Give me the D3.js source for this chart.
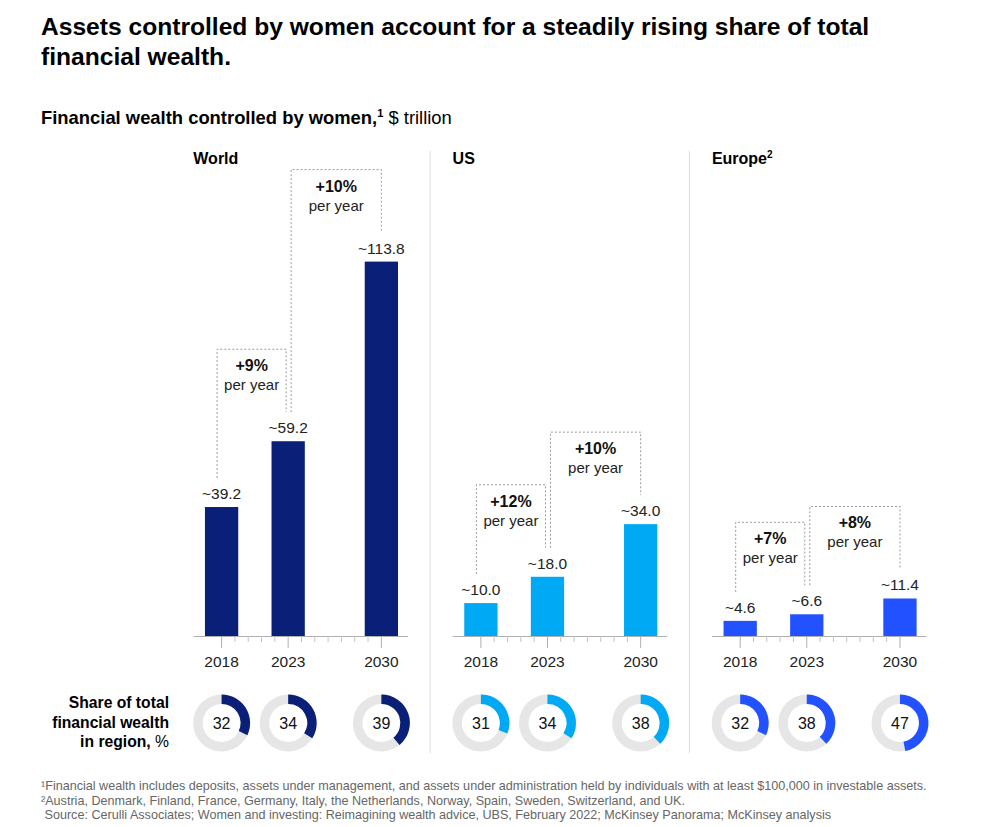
<!DOCTYPE html>
<html>
<head>
<meta charset="utf-8">
<script src="https://cdn.jsdelivr.net/npm/d3@7"></script>
<style>
  body { margin: 0; background: #fff; }
  svg { font-family: "Liberation Sans", Arial, sans-serif; }
</style>
</head>
<body>
<svg id="chart" width="984" height="827"></svg>
<script>
// Data
const years = [2018, 2023, 2030];
const regionNames = ["World", "US", "Europe"];
const worldWealth = [39.2, 59.2, 113.8];
const usWealth = [10.0, 18.0, 34.0];
const europeWealth = [4.6, 6.6, 11.4];
const worldGrowth = ["+9%", "+10%"];
const usGrowth = ["+12%", "+10%"];
const europeGrowth = ["+7%", "+8%"];
const worldShare = [32, 34, 39];
const usShare = [31, 34, 38];
const europeShare = [32, 38, 47];
const majorTicks = [2018, 2023, 2030];
const minorTicks = [2019, 2020, 2021, 2022, 2024, 2025, 2026, 2027, 2028, 2029];

const footnotes = [
    "¹Financial wealth includes deposits, assets under management, and assets under administration held by individuals with at least $100,000 in investable assets.",
    "²Austria, Denmark, Finland, France, Germany, Italy, the Netherlands, Norway, Spain, Sweden, Switzerland, and UK.",
    " Source: Cerulli Associates; Women and investing: Reimagining wealth advice, UBS, February 2022; McKinsey Panorama; McKinsey analysis"
];

const panels = [
    { name: regionNames[0], sup: "", wealth: worldWealth, growth: worldGrowth, share: worldShare, color: "#0a1f78" },
    { name: regionNames[1], sup: "", wealth: usWealth, growth: usGrowth, share: usShare, color: "#00a9f4" },
    { name: regionNames[2], sup: "2", wealth: europeWealth, growth: europeGrowth, share: europeShare, color: "#2251ff" }
];

const svg = d3.select("#chart");

// Title
const title = svg.append("text")
    .attr("x", 41).attr("y", 35)
    .attr("font-size", 24.6).attr("font-weight", "bold").attr("fill", "#000");
title.append("tspan").attr("x", 41).text("Assets controlled by women account for a steadily rising share of total");
title.append("tspan").attr("x", 41).attr("dy", 30).text("financial wealth.");

// Subtitle
const sub = svg.append("text")
    .attr("x", 41).attr("y", 124)
    .attr("font-size", 18.4).attr("fill", "#000");
sub.append("tspan").attr("font-weight", "bold").text("Financial wealth controlled by women,");
sub.append("tspan").attr("font-weight", "bold").attr("font-size", 11).attr("dy", -7).text("1");
sub.append("tspan").attr("dy", 7).text(" $ trillion");

// Shared vertical scale
const baseline = 636;
const y = d3.scaleLinear().domain([0, 120]).range([baseline, baseline - 120 * 3.29]);

const panelStart = 193.3, panelStep = 259.3, panelWidth = 214.7;
const donutY = 723;
const arc = d3.arc().innerRadius(19).outerRadius(28.5);

panels.forEach((p, i) => {
    const x0 = panelStart + i * panelStep;
    const x = d3.scaleLinear().domain([2015.875, 2032]).range([x0, x0 + panelWidth]);
    const g = svg.append("g");

    // Panel title
    const t = g.append("text").attr("x", x0).attr("y", 164)
        .attr("font-size", 16).attr("font-weight", "bold").attr("fill", "#000");
    t.append("tspan").text(p.name);
    if (p.sup) t.append("tspan").attr("font-size", 10).attr("dy", -6).text(p.sup);

    // Divider to the left of US and Europe
    if (i > 0) {
        g.append("line")
            .attr("x1", x0 - 22.5).attr("x2", x0 - 22.5)
            .attr("y1", 151).attr("y2", 753)
            .attr("stroke", "#dcdcdc").attr("stroke-width", 1);
    }

    // Bars (2.5 years wide, centred on the year)
    const barW = x(2020.5) - x(2018);
    g.selectAll("rect.bar").data(p.wealth).join("rect")
        .attr("class", "bar")
        .attr("x", (d, j) => x(years[j]) - barW / 2)
        .attr("y", d => y(d))
        .attr("width", barW)
        .attr("height", d => y(0) - y(d))
        .attr("fill", p.color);

    // Value labels
    g.selectAll("text.val").data(p.wealth).join("text")
        .attr("class", "val")
        .attr("x", (d, j) => x(years[j]))
        .attr("y", d => y(d) - 8)
        .attr("text-anchor", "middle")
        .attr("font-size", 15.5).attr("fill", "#222")
        .text(d => "~" + d3.format(".1f")(d));

    // Axis line and ticks
    g.append("line")
        .attr("x1", x0).attr("x2", x0 + panelWidth)
        .attr("y1", baseline + 0.5).attr("y2", baseline + 0.5)
        .attr("stroke", "#b0b0b0").attr("stroke-width", 1);
    g.selectAll("line.minor").data(minorTicks).join("line")
        .attr("class", "minor")
        .attr("x1", d => x(d)).attr("x2", d => x(d))
        .attr("y1", baseline).attr("y2", baseline + 6)
        .attr("stroke", "#c4c4c4");
    g.selectAll("line.major").data(majorTicks).join("line")
        .attr("class", "major")
        .attr("x1", d => x(d)).attr("x2", d => x(d))
        .attr("y1", baseline).attr("y2", baseline + 12)
        .attr("stroke", "#b0b0b0");
    g.selectAll("text.year").data(majorTicks).join("text")
        .attr("class", "year")
        .attr("x", d => x(d)).attr("y", 667)
        .attr("text-anchor", "middle")
        .attr("font-size", 15.5).attr("fill", "#222")
        .text(d => d);

    // Growth brackets
    p.growth.forEach((label, k) => {
        const a = p.wealth[k], b = p.wealth[k + 1];
        const lx = x(years[k]) + (k === 0 ? -4.5 : 3);
        const rx = x(years[k + 1]) + (k === 0 ? -2 : 0);
        const top = Math.min(y(a), y(b)) - 92;
        g.append("path")
            .attr("d", `M${lx},${y(a) - 29}V${top}H${rx}V${y(b) - 29}`)
            .attr("fill", "none")
            .attr("stroke", "#9a9a9a").attr("stroke-width", 1)
            .attr("stroke-dasharray", "2,2");
        const cx = (lx + rx) / 2;
        g.append("text").attr("x", cx).attr("y", top + 22)
            .attr("text-anchor", "middle").attr("font-size", 16)
            .attr("font-weight", "bold").attr("fill", "#111").text(label);
        g.append("text").attr("x", cx).attr("y", top + 41)
            .attr("text-anchor", "middle").attr("font-size", 15)
            .attr("fill", "#222").text("per year");
    });

    // Share donuts
    p.share.forEach((s, j) => {
        const dg = g.append("g").attr("transform", `translate(${x(years[j])},${donutY})`);
        dg.append("path")
            .attr("d", arc({ startAngle: 0, endAngle: 2 * Math.PI }))
            .attr("fill", "#e6e6e6");
        dg.append("path")
            .attr("d", arc({ startAngle: 0, endAngle: s / 100 * 2 * Math.PI }))
            .attr("fill", p.color);
        dg.append("text").attr("y", 5.5).attr("text-anchor", "middle")
            .attr("font-size", 16).attr("fill", "#111").text(s);
    });
});

// Donut row label
const shareLabel = svg.append("text")
    .attr("text-anchor", "end").attr("font-size", 15.7).attr("fill", "#000");
shareLabel.append("tspan").attr("x", 169).attr("y", 708).attr("font-weight", "bold").text("Share of total");
shareLabel.append("tspan").attr("x", 169).attr("y", 727.5).attr("font-weight", "bold").text("financial wealth");
const last = shareLabel.append("tspan").attr("x", 169).attr("y", 747);
last.append("tspan").attr("font-weight", "bold").text("in region,");
last.append("tspan").text(" %");

// Footnotes
svg.selectAll("text.foot").data(footnotes).join("text")
    .attr("class", "foot")
    .attr("x", 41)
    .attr("y", (d, i) => 790 + i * 14.5)
    .attr("font-size", 12.6).attr("fill", "#666")
    .attr("xml:space", "preserve")
    .style("white-space", "pre")
    .text(d => d);
</script>
</body>
</html>
